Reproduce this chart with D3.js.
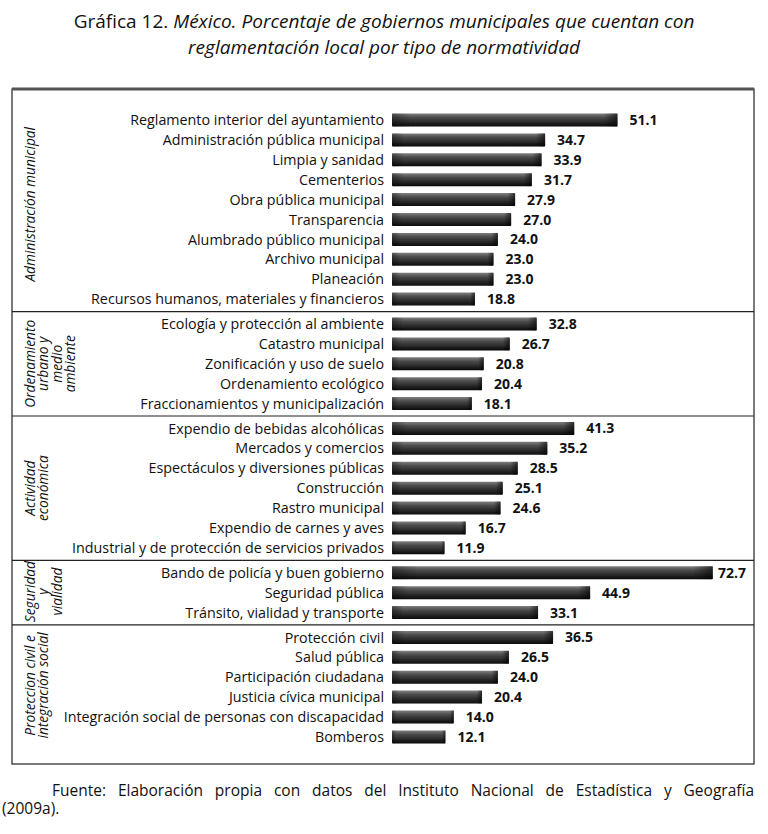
<!DOCTYPE html>
<html>
<head>
<meta charset="utf-8">
<script src="https://cdn.jsdelivr.net/npm/d3@7"></script>
<style>
  body { margin: 0; background: #fff; }
  text { font-family: "Open Sans", sans-serif; fill: #111; }
</style>
</head>
<body>
<div id="chart"></div>
<script>
// Group names (split in lines as in the original)
const groupLabels = [
    ["Administración municipal"],
    ["Ordenamiento", "urbano y", "medio", "ambiente"],
    ["Actividad", "económica"],
    ["Seguridad", "y", "vialidad"],
    ["Proteccion civil e", "integración social"]
];

const categories = [
    ["Reglamento interior del ayuntamiento", "Administración pública municipal", "Limpia y sanidad",
     "Cementerios", "Obra pública municipal", "Transparencia", "Alumbrado público municipal",
     "Archivo municipal", "Planeación", "Recursos humanos, materiales y financieros"],
    ["Ecología y protección al ambiente", "Catastro municipal", "Zonificación y uso de suelo",
     "Ordenamiento ecológico", "Fraccionamientos y municipalización"],
    ["Expendio de bebidas alcohólicas", "Mercados y comercios", "Espectáculos y diversiones públicas",
     "Construcción", "Rastro municipal", "Expendio de carnes y aves",
     "Industrial y de protección de servicios privados"],
    ["Bando de policía y buen gobierno", "Seguridad pública", "Tránsito, vialidad y transporte"],
    ["Protección civil", "Salud pública", "Participación ciudadana", "Justicia cívica municipal",
     "Integración social de personas con discapacidad", "Bomberos"]
];

const values = [
    [51.1, 34.7, 33.9, 31.7, 27.9, 27.0, 24.0, 23.0, 23.0, 18.8],
    [32.8, 26.7, 20.8, 20.4, 18.1],
    [41.3, 35.2, 28.5, 25.1, 24.6, 16.7, 11.9],
    [72.7, 44.9, 33.1],
    [36.5, 26.5, 24.0, 20.4, 14.0, 12.1]
];

// Layout
const width = 768, height = 834;
const box = { left: 12, right: 754, top: 89, bottom: 764 };
const groupGap = 0.25;                 // extra slot between groups
const labelShift = [4, 0, 0, -1, -9];  // vertical nudge of the group names

// Flatten rows, keeping group index and a "slot" position
const rows = [];
let idx = 0;
categories.forEach((cats, g) => {
    cats.forEach((c, i) => {
        rows.push({ group: g, name: c, value: values[g][i], slot: idx + g * groupGap });
        idx++;
    });
});

const lastSlot = rows[rows.length - 1].slot;
const y = d3.scaleLinear().domain([0, lastSlot]).range([120, 120 + lastSlot * 19.9]);
const x = d3.scaleLinear().domain([0, 80]).range([392, 745]);
const barH = 13;

const svg = d3.select("#chart")
    .append("svg")
    .attr("width", width)
    .attr("height", height);

// Bar gradient and soft edge
const defs = svg.append("defs");
const grad = defs.append("linearGradient")
    .attr("id", "barGrad")
    .attr("x1", 0).attr("y1", 0).attr("x2", 0).attr("y2", 1);
grad.append("stop").attr("offset", "0%").attr("stop-color", "#808080");
grad.append("stop").attr("offset", "30%").attr("stop-color", "#4c4c4c");
grad.append("stop").attr("offset", "70%").attr("stop-color", "#262626");
grad.append("stop").attr("offset", "100%").attr("stop-color", "#0b0b0b");

const hgrad = defs.append("linearGradient")
    .attr("id", "endGrad")
    .attr("x1", 0).attr("y1", 0).attr("x2", 1).attr("y2", 0);
hgrad.append("stop").attr("offset", "0%").attr("stop-color", "#000").attr("stop-opacity", 0.35);
hgrad.append("stop").attr("offset", "8%").attr("stop-color", "#000").attr("stop-opacity", 0);
hgrad.append("stop").attr("offset", "94%").attr("stop-color", "#000").attr("stop-opacity", 0);
hgrad.append("stop").attr("offset", "100%").attr("stop-color", "#000").attr("stop-opacity", 0.6);

const blur = defs.append("filter").attr("id", "soft")
    .attr("x", "-5%").attr("y", "-40%").attr("width", "110%").attr("height", "180%");
blur.append("feGaussianBlur").attr("stdDeviation", 0.7);

// Title
const title = svg.append("text")
    .attr("x", width / 2)
    .attr("y", 28)
    .attr("text-anchor", "middle")
    .style("font-size", "19px");
title.append("tspan").text("Gráfica 12. ");
title.append("tspan").style("font-style", "italic")
    .text("México. Porcentaje de gobiernos municipales que cuentan con");
svg.append("text")
    .attr("x", width / 2)
    .attr("y", 54)
    .attr("text-anchor", "middle")
    .style("font-size", "19px")
    .style("font-style", "italic")
    .text("reglamentación local por tipo de normatividad");

// Frame
svg.append("rect")
    .attr("x", box.left).attr("y", box.top)
    .attr("width", box.right - box.left).attr("height", box.bottom - box.top)
    .style("fill", "none").style("stroke", "#222").style("stroke-width", 1.2);
svg.append("line")
    .attr("x1", box.left).attr("x2", box.right)
    .attr("y1", box.top).attr("y2", box.top)
    .style("stroke", "#555").style("stroke-width", 3);

// Group separators and group names
const groupExtent = groupLabels.map((_, g) => {
    const r = rows.filter(d => d.group === g);
    return [r[0].slot, r[r.length - 1].slot];
});
const bounds = groupExtent.map((e, g) => {
    const top = g === 0 ? box.top : (y(groupExtent[g - 1][1]) + y(e[0])) / 2;
    const bottom = g === groupExtent.length - 1 ? box.bottom : (y(e[1]) + y(groupExtent[g + 1][0])) / 2;
    return [top, bottom];
});

svg.selectAll(".sep")
    .data(bounds.slice(1))
    .enter()
    .append("line")
    .attr("class", "sep")
    .attr("x1", box.left).attr("x2", box.right)
    .attr("y1", d => d[0]).attr("y2", d => d[0])
    .style("stroke", "#222").style("stroke-width", 1.2);

const gl = svg.selectAll(".group-label")
    .data(groupLabels)
    .enter()
    .append("text")
    .attr("class", "group-label")
    .attr("text-anchor", "middle")
    .attr("transform", (d, g) => `translate(35,${(bounds[g][0] + bounds[g][1]) / 2 + labelShift[g]}) rotate(-90)`)
    .style("font-size", "13.7px")
    .style("font-style", "italic");
gl.selectAll("tspan")
    .data(d => d)
    .enter()
    .append("tspan")
    .attr("x", 0)
    .attr("y", (d, i) => i * 13.3)
    .text(d => d);

// Bars
svg.selectAll(".bar")
    .data(rows)
    .enter()
    .append("rect")
    .attr("class", "bar")
    .attr("x", x(0))
    .attr("y", d => y(d.slot) - barH / 2)
    .attr("width", d => x(d.value) - x(0))
    .attr("height", barH)
    .attr("rx", 1)
    .style("fill", "url(#barGrad)")
    .attr("filter", "url(#soft)");

svg.selectAll(".bar-end")
    .data(rows)
    .enter()
    .append("rect")
    .attr("class", "bar-end")
    .attr("x", x(0))
    .attr("y", d => y(d.slot) - barH / 2)
    .attr("width", d => x(d.value) - x(0))
    .attr("height", barH)
    .style("fill", "url(#endGrad)")
    .attr("filter", "url(#soft)");

// Category labels
svg.selectAll(".cat")
    .data(rows)
    .enter()
    .append("text")
    .attr("class", "cat")
    .attr("x", 384)
    .attr("y", d => y(d.slot))
    .attr("dy", "0.36em")
    .attr("text-anchor", "end")
    .style("font-size", "14.3px")
    .text(d => d.name);

// Value labels
svg.selectAll(".val")
    .data(rows)
    .enter()
    .append("text")
    .attr("class", "val")
    .attr("x", d => Math.min(x(d.value) + 12, box.right - 36))
    .attr("y", d => y(d.slot))
    .attr("dy", "0.36em")
    .style("font-size", "14px")
    .style("font-weight", "bold")
    .text(d => d3.format(".1f")(d.value));

// Source note, justified through word spacing
const src = svg.append("text")
    .attr("x", 52)
    .attr("y", 796)
    .style("font-size", "15.5px")
    .text("Fuente: Elaboración propia con datos del Instituto Nacional de Estadística y Geografía");
const natural = src.node().getComputedTextLength();
const nSpaces = src.text().split(" ").length - 1;
src.style("word-spacing", Math.max(0, (754 - 52 - natural) / nSpaces) + "px");
svg.append("text")
    .attr("x", 2)
    .attr("y", 814)
    .style("font-size", "15.5px")
    .text("(2009a).");
</script>
</body>
</html>
